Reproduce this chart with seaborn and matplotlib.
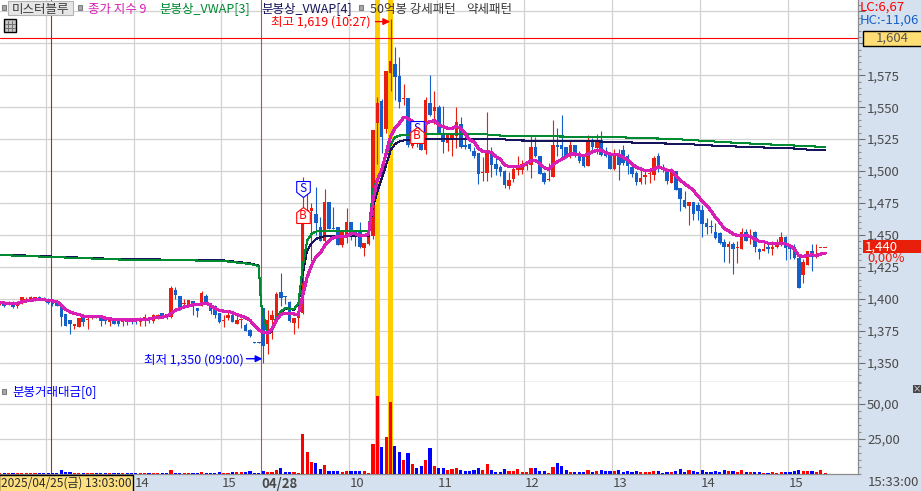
import matplotlib
matplotlib.use("Agg")
from matplotlib import pyplot as plt
from matplotlib.patches import Rectangle
from matplotlib.ticker import MultipleLocator
from matplotlib.transforms import ScaledTranslation
import numpy as np
import pandas as pd
import seaborn as sns

# 3 minute candles, 2025/04/25 13:00 .. 04/28 15:20
opens = [1396,1397,1396,1397,1394,1397,1399,1399,1399,1401,1400.3,1400,1399,1397,1396,1388,1383,1379,1378,1386,
         1383.5,1385,1387,1387,1384,1382,1384,1382.5,1381.5,1383,1383,1383,1382,1382.5,1384,1382.5,1385,1389,1388,1386,
         1406.5,1402,1396,1395,1398,1393,1394.5,1402,1396.6,1394.5,1389,1382.6,1385,1387,1380.4,1383,1379.6,1375.7,1365.8,1365.8,
         1393,1364.6,1383,1386,1405.6,1402,1397.7,1381.3,1384.6,1388.6,1467.7,1468.5,1466.4,1456,1445.5,1476,1455.4,1456,1442.4,1449.4,
         1459.9,1453,1452.6,1440,1443,1449,1537.4,1554.8,1533,1577,1584,1574.4,1556,1557,1519.6,1523,1524,1516.5,1553,1547,
         1550,1530,1521.7,1526,1527.4,1536.8,1520.4,1521,1516,1513.8,1498.7,1498.4,1515,1505.5,1503,1500,1488,1494,1501,1501,
         1504,1505,1519,1512,1498.7,1493,1495,1520.6,1520,1519,1512.5,1520,1513.6,1512,1504,1523,1518,1524.5,1515.4,1512.8,
         1501.8,1512,1516.7,1512,1503,1498.7,1491,1495,1497.6,1497,1512,1502.5,1501.5,1490.9,1500,1486.4,1477.6,1472.4,1475.5,1473,
         1469.7,1459.6,1457,1452.5,1451.5,1444.4,1440.8,1443,1439.4,1439,1452.5,1447.3,1452.5,1439,1437,1440.8,1439,1440.2,1442.8,1448.6,
         1440.8,1440.8,1432,1418.8,1426.7,1437.6,1432.4,1439.4,1439.4]
highs = [1398,1398,1398,1398,1398,1401,1401,1402,1401.5,1402,1401,1400.5,1399.5,1398,1396,1388,1383,1380,1385,1387,
         1387,1387.5,1387.5,1387,1384,1384,1384,1383,1384,1383,1383,1383,1386,1388,1386,1388,1388,1389,1388,1410,
         1409,1402,1400,1399,1398,1393,1406,1404,1397,1395,1389,1387,1390,1388,1387,1385,1381,1376,1366,1366,
         1393,1391,1391,1405,1419.9,1402.5,1398,1385,1389,1495,1486.7,1475,1487.6,1464,1485.9,1476,1472,1456,1452,1471,
         1460,1454,1459.9,1444,1452,1532,1558,1556,1578,1619,1597,1589.6,1568,1557,1522,1526,1526,1558,1575,1563,
         1552,1551,1530,1530,1550,1542.6,1528,1522,1518.5,1514,1511,1546,1519,1513,1505,1501,1499,1505,1512,1509,
         1508,1528,1526.5,1512,1499,1506,1540,1534,1544,1519,1524,1520,1516,1513,1528,1526,1529,1531,1519,1513,
         1517,1517,1520,1513,1505,1500,1501,1501,1500,1512,1514,1505.5,1502,1502,1500,1486.4,1484,1476,1476,1476,
         1473,1463,1462,1459,1452,1447,1445,1444.5,1445,1455,1454.6,1454.6,1453,1440,1446,1444,1445,1447,1452.4,1449,
         1441,1443,1435,1431,1437.6,1443,1443,1439.4,1439.4]
lows = [1395,1393.5,1395,1393,1393,1396,1398,1398,1398.5,1399,1399,1396,1394,1394,1379,1379,1372,1376,1378,1379,
        1376,1384,1385,1379,1380,1379,1380,1379,1379,1379.5,1380,1380,1379,1379,1381,1381,1384,1385,1384,1385,
        1400,1391,1394,1394,1387,1386,1394,1397,1388,1385,1381,1378,1383,1382,1380,1377,1375,1370,1365,1365,
        1350,1357,1368.5,1385,1394,1396,1382,1372.6,1377,1388,1463,1429.9,1450,1445,1444,1454.6,1454.6,1442,1440.8,1444,
        1446,1441.6,1440,1433.6,1442,1447,1505.3,1514,1530,1563,1555.6,1549,1551.7,1519,1518,1519,1516.5,1513,1543,1537,
        1530,1514,1516,1512,1518,1518,1517,1515.4,1510,1490,1492,1492,1495,1497,1496,1487,1486,1491,1497,1498,
        1501,1494.5,1511,1498,1490,1492.5,1495,1512,1511,1510,1510,1511,1506,1503,1504,1515,1513,1512,1511,1501.8,
        1501,1493,1505,1498,1495,1489,1490,1490,1490.5,1493,1499,1499,1490,1490.9,1485,1469,1471,1458,1462,1462,
        1448.6,1451,1451.6,1447,1443,1429,1428,1419.6,1428,1439,1445,1443,1436.4,1431,1437,1436,1434.6,1440,1441,1430.3,
        1431,1431,1408,1412,1426,1422,1432,1439.4,1439.4]
closes = [1398,1394,1397,1393.5,1397,1401,1399.5,1401,1401,1399,1400,1397,1396,1394,1386,1379,1380,1380,1385,1382,
          1384,1387,1385,1382.5,1382.5,1383.5,1380,1380,1383,1382,1382,1382.5,1384,1385.6,1383,1387,1387,1385,1385,1408,
          1402.6,1392,1397,1399,1395,1390,1404.5,1397.4,1390.5,1387,1382,1383.6,1387,1382,1383.6,1383.4,1375,1370.5,1365.5,1365.5,
          1363.3,1383.7,1387,1403.7,1400.4,1401.5,1382.3,1385,1389,1467.7,1469.5,1470.8,1459,1445.5,1476,1454.6,1454.6,1442.4,1452,1459.9,
          1450.7,1450,1440.3,1444,1450.7,1532,1553,1527,1578,1586,1574,1554.3,1557.5,1520.4,1522,1521,1516.5,1555.6,1544,1550,
          1530,1523,1528.7,1528.7,1538.7,1519,1518.8,1517,1511.5,1497.7,1499,1514.6,1505,1501.8,1499.5,1489,1493,1501.8,1502.3,1505.7,
          1506,1519,1511.5,1498,1491,1493.5,1520.6,1519,1517,1512,1520,1512.5,1508,1504,1524.5,1518.5,1523,1512.8,1512,1501.8,
          1512,1505,1506,1504,1498,1491,1494.5,1497,1498,1510,1502.3,1500.5,1492.4,1500,1485.4,1478,1472,1476,1466,1469,
          1458.5,1456.4,1456.5,1447.5,1444,1440.8,1443,1439,1440.8,1452.5,1445.4,1449.4,1440.8,1436.8,1439,1439,1440.8,1443.4,1448.6,1440,
          1439,1431.6,1408,1429,1437.6,1432.4,1434.5,1439.4,1439.4]

ma9 = [1396.9,1396.6,1396.3,1396.1,1396.1,1397.7,1398.2,1398.7,1399.2,1399.5,
       1399.2,1398.7,1398.2,1397.9,1394.8,1391.6,1389.6,1388.3,1387.7,1386.4,
       1386.2,1386.2,1386.2,1385.9,1384.9,1384.3,1383.8,1383.6,1383.6,1383.3,
       1383.3,1383.3,1383.6,1383.6,1384.1,1384.9,1385.1,1385.6,1386.2,1388.5,
       1390.9,1392.2,1393.5,1394.3,1395.3,1395.3,1396.1,1396.6,1394.8,1392.2,
       1390.9,1390.3,1390.3,1389,1387.5,1386.4,1385.1,1383,1379,1375.5,
       1373.7,1373,1376.3,1383,1387.6,1388.6,1388.6,1388,1387.6,1402.4,
       1416.8,1426,1433,1435.6,1441.6,1445.5,1448,1448.6,1448.9,1448.9,
       1450.7,1450.7,1449.4,1449.4,1450.7,1477,1493,1500.8,1514,1527,
       1533.4,1537.4,1542,1541.3,1538.7,1536.8,1536,1536.8,1538.7,1539.4,
       1536,1534.8,1533.4,1533.4,1534.8,1533.4,1529.5,1524.3,1523,1517.8,
       1515.2,1515.2,1514.4,1511.3,1509.2,1504.7,1503.4,1503.4,1503.4,1504,
       1506,1507.9,1508.1,1506,1502.6,1501.3,1504.7,1507.3,1509.2,1511.3,
       1513.3,1513.3,1512.6,1512,1513.3,1515.2,1516,1516.5,1514.4,1513.3,
       1512.6,1512.6,1510.7,1508.6,1505.5,1502.9,1501.6,1500.3,1500.3,1501.6,
       1503.4,1502,1500.3,1500.3,1496.3,1493,1489.8,1487.7,1484.6,1480.7,
       1476.3,1472.9,1468.9,1463.7,1459.8,1455,1453.3,1450.7,1449.6,1449.6,
       1449.6,1448.6,1446.8,1444.9,1444.7,1443.4,1443.4,1443.4,1443.4,1442.8,
       1441.5,1438.9,1433.7,1433.2,1433.7,1434.5,1433.7,1435,1435.5]

vwap3_idx = [0,27,39,51,57,59,59.5,61,62,63,64,65,67,68,69,70,71,72,73,74,84,85,86,87,88,89,90,91,92,95,111,112,118,136,141,154,160,166,174,182,188]
vwap3 = [1434.2,1430.7,1430.3,1429.5,1427.2,1425.6,1396,1372,1376,1385,1390,1392.5,1392,1396,1425,1445.5,1450.7,1452.6,1452.8,1453.3,1453.3,
         1485,1494,1502,1512.6,1520.4,1526.4,1527.7,1528.2,1528.7,1528.7,1528,1527.4,1526.7,1526.4,1525,1523.7,1522.4,1521,1519.8,1518.8]
vwap4_idx = [0,27,39,51,57,59,59.5,61,62,63,64,65,67,68,69,70,71,72,73,74,84,85,86,87,88,89,90,91,92,95,115,116,135,147,157,162,169,175,182,185,188]
vwap4 = [1434.6,1431,1430.6,1430,1427.6,1426,1396,1372,1375,1384,1389.4,1392,1391.5,1396,1419,1437.7,1443.4,1446.8,1448,1449,1449,
         1472,1483.9,1494.3,1504.7,1516,1521,1523,1524,1524.8,1524.8,1524,1523.3,1522,1521,1520,1519,1518.3,1517.5,1516.4,1516.4]

volume = [.4,.4,.4,.4,.4,.4,.4,.4,.4,.4,.4,.4,.4,.4,2.9,1.4,1.4,.4,.4,.4,
          .4,.4,.4,.4,.4,.4,.4,.4,.4,.4,.4,.4,.4,.4,.4,.4,.4,.4,.4,2.9,
          .4,.4,.4,.4,.4,.4,1.4,.4,.4,.4,1.2,.4,.4,1.2,1.2,1.2,1.2,2,.7,.4,
          2.1,1.4,1.4,2.9,4.3,1.4,1.4,1.4,.4,28.6,15.7,8.6,7.9,3.6,6.4,2.1,2.1,2.1,1.4,2.1,
          2.1,2.1,2.1,2.1,.4,21.4,56,19.3,26.4,51.6,20,15.7,10,15,7.1,4.3,5.7,10,18.6,5.7,
          4.3,4.3,2.9,3.6,4.3,2.9,2.1,2.1,2.9,4.3,2.9,7.1,2.9,1.4,1.4,3.6,2.1,2.1,3.6,1.4,
          1.4,4.3,4.3,2.1,2.1,.4,5,7.9,5.7,2.9,1.4,1.4,1.2,1.4,2.9,1.4,2.1,2.9,2.1,2.1,
          2.1,2.9,1.4,2.1,1.4,2.1,1.4,1.4,1.4,2.1,2.1,.7,1.4,1.4,2.1,3.6,1.4,2.9,2.1,1.4,
          2.9,1.4,1.4,2.1,1.4,2.9,2.1,2.1,1.4,2.9,1.4,1.4,1.4,1.4,.4,.7,1.4,.4,1.4,1.4,
          1.4,2.1,2.9,2.1,2.1,2.1,1.4,2.9,.4]

price_ticks = [1350,1375,1400,1425,1450,1475,1500,1525,1550,1575,1600,1625]
price_labels = ["1,350","1,375","1,400","1,425","1,450","1,475","1,500","1,525","1,550","1,575","",""]
volume_ticks = [25,50]
volume_labels = ["25,00","50,00"]
hour_ticks = [10.5,30.5,50.5,59.5,79.5,99.5,119.5,139.5,159.5,179.5]
hour_labels = ["","14","15","04/28","10","11","12","13","14","15"]
hour_grid = [10.5,30.5,50.5,79.5,99.5,119.5,139.5,159.5,179.5]
pattern_bars = [86,89]
cross_bar = 11.65
day_bar = 59.5
sell_bars, sell_prices = [69,95], [1486,1533]
buy_bars, buy_prices = [69,95], [1465.5,1528]
prev_line = 1604

W, H = 921, 491
PLOT_R, MAIN_B, VOL_B = 858, 382, 474
STRIP = "#d6e1ef"
GRID = "#d2d2d2"
UP, DOWN = "#e81f10", "#1560c8"
KR = ["Noto Sans CJK KR", "DejaVu Sans"]

sns.set_style("white")
plt.rcParams['font.family'] = KR

df = pd.DataFrame({"i": np.arange(len(opens)), "o": opens, "h": highs, "l": lows, "c": closes, "ma": ma9, "vol": volume})
df["side"] = np.where(df.c >= df.o, "up", "down")

fig = plt.figure(figsize=(W/100, H/100), dpi=100, facecolor=STRIP)
ax1 = fig.add_axes([0, (H-MAIN_B)/H, PLOT_R/W, MAIN_B/H])
ax2 = fig.add_axes([0, (H-VOL_B)/H, PLOT_R/W, (VOL_B-MAIN_B)/H])
xlim = (0.2/4.39, (PLOT_R+0.2)/4.39)

# Price panel
for b in pattern_bars:
    ax1.axvspan(b-0.5, b+0.5, color="#ffcc00", lw=0, zorder=1)
    ax2.axvspan(b-0.5, b+0.5, color="#ffcc00", lw=0, zorder=1)
colors = df.side.map({"up": UP, "down": DOWN}).tolist()
ax1.vlines(df.i, df.l, df.h, colors=colors, lw=0.8, zorder=3)
ax1.bar(df.i, np.maximum((df.c-df.o).abs(), 0.8), bottom=df[["o", "c"]].min(axis=1), width=0.8,
        color=colors, linewidth=0, antialiased=False, zorder=3)
sns.lineplot(x=vwap4_idx, y=vwap4, ax=ax1, color="#16145c", linewidth=0.75, estimator=None, sort=False, zorder=4, antialiased=False)
sns.lineplot(x=vwap3_idx, y=vwap3, ax=ax1, color="#008a32", linewidth=0.75, estimator=None, sort=False, zorder=4.1, antialiased=False)
sns.lineplot(data=df, x="i", y="ma", ax=ax1, color="#d81eb4", linewidth=1.5, estimator=None, sort=False, zorder=5, antialiased=False)
ax1.axhline(prev_line, color="#ff0000", lw=0.8, zorder=6)
ax1.axvline(cross_bar, color="#c81e1e", lw=0.8, zorder=2)
ax1.axvline(day_bar, color="#b95050", lw=0.8, zorder=2)

ax1.set_xlim(xlim)
ax1.set_ylim(1600-(MAIN_B-43.3)/1.277, 1600+43.3/1.277)
ax1.set_yticks(price_ticks, price_labels)
ax1.yaxis.set_minor_locator(MultipleLocator(5))

# S / B signal flags, drawn on top of the candles
s_flag = [(-.85, 1), (.85, 1), (.85, -.35), (0, -1), (-.85, -.35), (-.85, 1)]
b_flag = [(-.85, -1), (.85, -1), (.85, .35), (0, 1), (-.85, .35), (-.85, -1)]
ax1.plot(sell_bars, sell_prices, ls="", marker=s_flag, ms=11.5, mfc="white", mec="#0000ff", mew=0.8, zorder=7)
ax1.plot(buy_bars, buy_prices, ls="", marker=b_flag, ms=11.5, mfc="white", mec="#ff0000", mew=0.8, zorder=8)
for x, y in zip(sell_bars, sell_prices):
    ax1.text(x, y+0.5, "S", color="#0000ff", fontsize=8.5, ha="center", va="center", zorder=7.5)
for x, y in zip(buy_bars, buy_prices):
    ax1.text(x, y-0.5, "B", color="#ff0000", fontsize=8.5, ha="center", va="center", zorder=9)

ax1.annotate("", xy=(88.9, 1617), xytext=(85.6, 1617), zorder=9,
             arrowprops=dict(arrowstyle="-|>", color="#ff0000", lw=1, shrinkA=0, shrinkB=0, mutation_scale=10))
ax1.annotate("", xy=(59.8, 1353), xytext=(56.2, 1353), zorder=9,
             arrowprops=dict(arrowstyle="-|>", color="#0000ff", lw=1, shrinkA=0, shrinkB=0, mutation_scale=10))

# Volume panel
sns.barplot(data=df, x="i", y="vol", hue="side", hue_order=["up", "down"], palette={"up": "#ff0000", "down": "#0000ff"},
            native_scale=True, dodge=False, width=0.72, saturation=1, errorbar=None, legend=False,
            linewidth=0, antialiased=False, ax=ax2, zorder=3)
ax2.set_xlim(xlim)
ax2.set_ylim(0, (VOL_B-MAIN_B)/1.4)
ax2.set_yticks(volume_ticks, volume_labels)
ax2.yaxis.set_minor_locator(MultipleLocator(5))
ax2.axvline(cross_bar, color="#c81e1e", lw=0.8, zorder=2)
ax2.axvline(day_bar, color="#b95050", lw=0.8, zorder=2)
ax2.set_xticks(hour_ticks, hour_labels)

for ax in (ax1, ax2):
    ax.set_xlabel("")
    ax.set_ylabel("")
    ax.set_facecolor("white")
    ax.set_axisbelow(True)
    ax.yaxis.tick_right()
    ax.grid(True, axis="y", which="major", color=GRID, lw=0.9)
    for g in hour_grid:
        ax.axvline(g, color=GRID, lw=0.9, zorder=0.5)
    ax.tick_params(axis="y", which="major", length=5, width=0.8, color="#707070", labelcolor="#4a4a4a", labelsize=9.5, pad=1.5)
    ax.tick_params(axis="y", which="minor", length=2.5, width=0.8, color="#909090", right=True)
    for side in ("left", "top"):
        ax.spines[side].set_visible(False)
    for side in ("right", "bottom"):
        ax.spines[side].set_color("#8c8c8c")
        ax.spines[side].set_linewidth(0.9)

ax1.tick_params(axis="x", length=0, labelbottom=False)
ax2.tick_params(axis="x", length=12.5, width=0.9, color="#8c8c8c", labelcolor="#4a4a4a", labelsize=9.5, pad=-10)
shift = ScaledTranslation(0.5/72, 0, fig.dpi_scale_trans)
for lab in ax2.get_xticklabels():
    lab.set_ha("left")
    lab.set_transform(lab.get_transform() + shift)
    if lab.get_text() == "04/28":
        lab.set_fontweight("bold")


def px_rect(x0, y0, x1, y1, **kw):
    kw.setdefault("lw", 0.8)
    fig.add_artist(Rectangle((x0/W, 1-y1/H), (x1-x0)/W, (y1-y0)/H, transform=fig.transFigure, **kw))


def px_text(x, y, s, color, size=9, ha="left", **kw):
    fig.text(x/W, 1-(y+1)/H, s, color=color, fontsize=size, ha=ha, va="center", **kw)


# Header legend
px_rect(8, 1, 73, 15, fc="#e6e6e6", ec="#b4b4b4")
px_rect(1.5, 5, 5.5, 10, fc="#a8a8a8", ec="#808080")
px_rect(77.5, 5, 81.5, 10, fc="#a8a8a8", ec="#808080")
px_rect(359, 5, 363, 10, fc="#a8a8a8", ec="#808080")
px_text(12, 8, "미스터블루", "#3a3a3a")
px_text(88, 8, "종가 지수 9", "#d81eb4")
px_text(159, 8, "분봉상_VWAP[3]", "#008a32")
px_text(261, 8, "분봉상_VWAP[4]", "#16145c")
px_text(370, 8, "50억봉 강세패턴", "#3a3a3a")
px_text(466, 8, "약세패턴", "#3a3a3a")
px_text(271, 21, "최고 1,619 (10:27)", "#ff0000")
px_text(144, 359, "최저 1,350 (09:00)", "#0000ff")
px_text(12, 391, "분봉거래대금[0]", "#0000ff")
px_rect(1.5, 388.5, 5.5, 393.5, fc="#a8a8a8", ec="#808080")

# Table icon
px_rect(3.5, 19.5, 16, 32, fc="#c8c8c8", ec="#000000", lw=1)
for gx in (7.5, 11.5):
    fig.add_artist(plt.Line2D([gx/W, gx/W], [1-21/H, 1-31/H], color="#707070", lw=0.7))
for gy in (23.5, 27.5):
    fig.add_artist(plt.Line2D([5/W, 15/W], [1-gy/H, 1-gy/H], color="#707070", lw=0.7))

# Right hand boxes
px_text(860, 6, "LC:6,67", "#ff0000", size=9.5)
px_text(860, 19, "HC:-11,06", "#1560c8", size=9.5)
px_rect(862.5, 30.5, 921.5, 46, fc="#ffde75", ec="#000000", lw=1)
px_text(892, 37.5, "1,604", "#555555", size=9.5, ha="center")
px_rect(863, 240, 921.5, 253, fc="#e81f0a", ec="none")
px_text(881, 246, "1,440", "white", size=9.5, ha="center")
px_text(867, 257, "0,00%", "#e81f0a", size=9.5)
px_rect(913, 385, 921, 393, fc="#484848", ec="none")
px_text(917, 387.8, "×", "white", size=6, ha="center")

# Time strip
px_rect(-1, 475, 133, 492, fc="#ffe080", ec="#000000", lw=1)
px_text(1, 482, "2025/04/25(금) 13:03:00", "#2a2a2a", size=8.6)
px_text(868, 481.5, "15:33:00", "#4a4a4a", size=9.5)

fig.savefig("out.png", dpi=100, facecolor=fig.get_facecolor())
